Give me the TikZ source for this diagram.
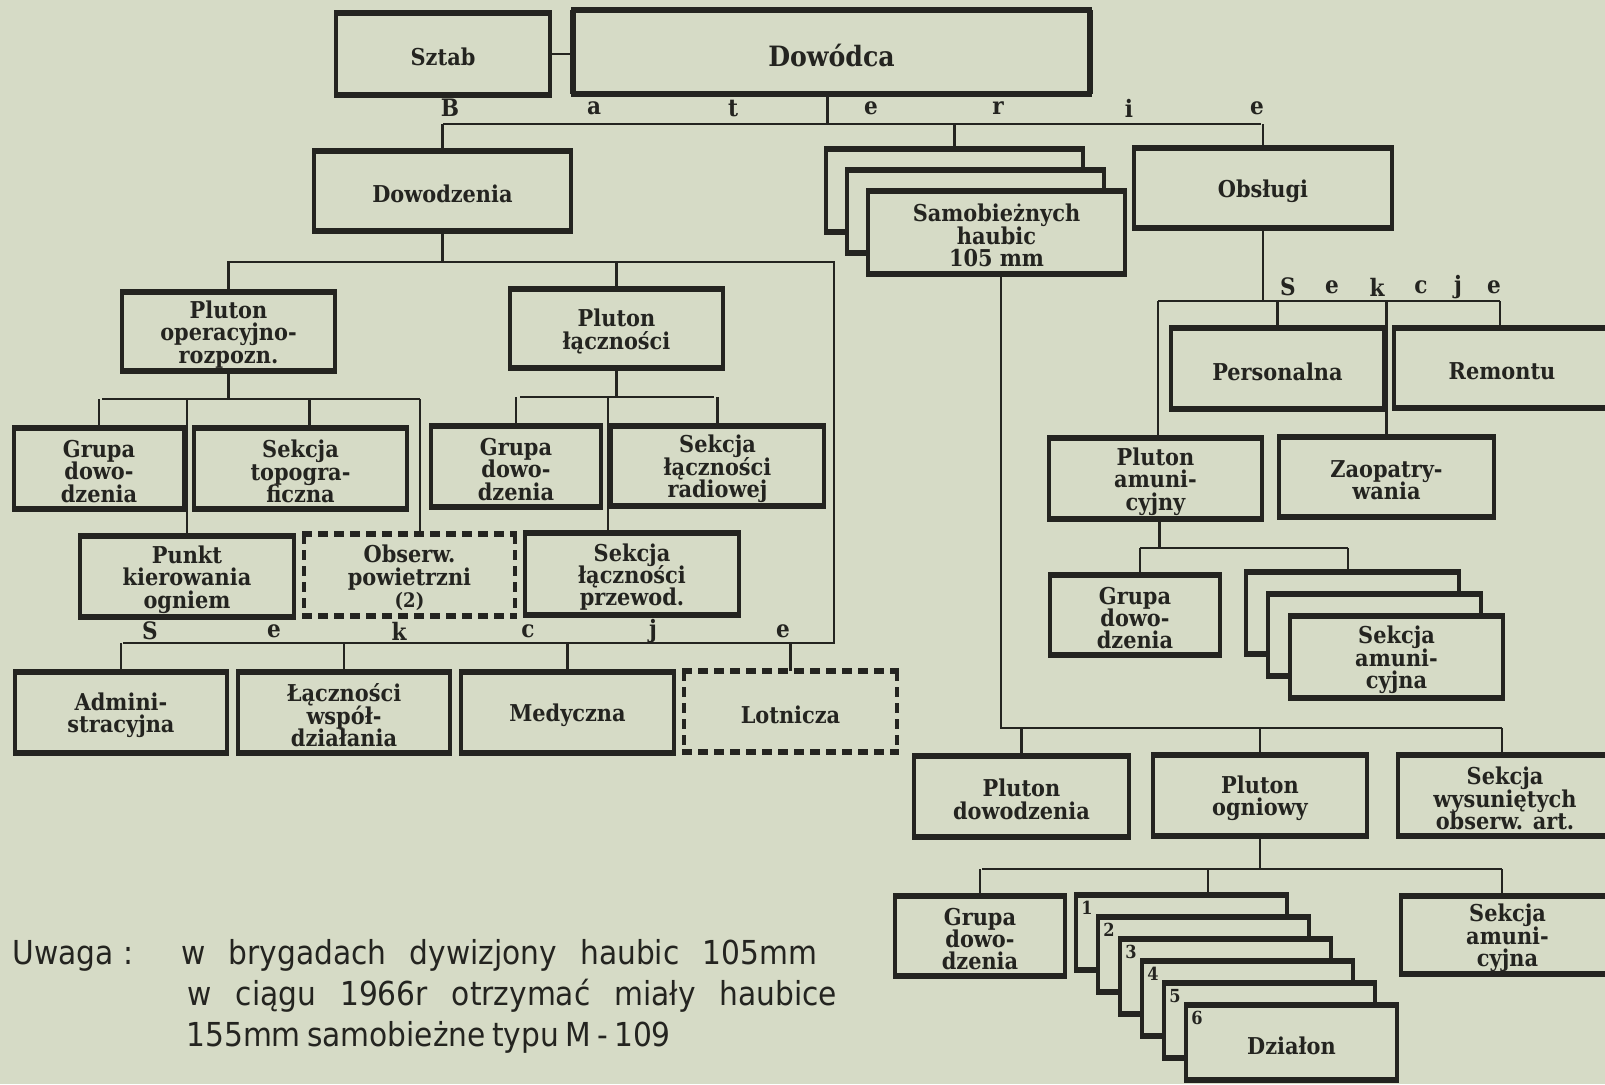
\documentclass[tikz,border=0pt]{standalone}
\usepackage{fontspec}
\setmainfont{DejaVu Serif Condensed}
\newfontfamily\notefont{DejaVu Sans Condensed}
\definecolor{paper}{RGB}{214,219,198}
\definecolor{ink}{RGB}{36,36,32}
\newcommand\myboxfont{\bfseries\fontsize{11.6}{11.2}\selectfont\setlength{\lineskiplimit}{-20pt}\setlength{\lineskip}{0pt}}
\tikzset{
  boxn/.style={inner sep=0pt, outer sep=0pt, fill=paper},
  boxtext/.style={inner sep=0pt, align=center, text=ink, font=\myboxfont},
  sidel/.style={line width=1.7pt, draw=ink},
  horl/.style={line width=2.6pt, draw=ink},
  conn/.style={line width=1.1pt, draw=ink},
  dashedbox/.style={dash pattern=on 5pt off 3pt},
  letter/.style={font=\bfseries\fontsize{12}{12}\selectfont, text=ink, inner sep=0pt},
  numl/.style={font=\bfseries\fontsize{9}{9}\selectfont, text=ink, inner sep=0pt, anchor=north west},
  notel/.style={font=\notefont\fontsize{16.5}{18}\selectfont, text=ink, inner sep=0pt, anchor=base west},
}
\newcommand\orgbox[7][]{%
  \node[boxn, minimum width={(#5-#3)*0.5pt}, minimum height={(#6-#4)*0.5pt}] (#2) at ({(#3+#5)/2},{(#4+#6)/2}) {};
  \node[boxtext, yshift=-1.5pt] (#2t) at (#2.center) {#7};
  \draw[sidel,#1] (#2.north west) -- (#2.south west) (#2.north east) -- (#2.south east);
  \draw[horl,#1] ([xshift=-1pt]#2.north west) -- ([xshift=1pt]#2.north east) ([xshift=-1pt]#2.south west) -- ([xshift=1pt]#2.south east);
}
\begin{document}
\begin{tikzpicture}[x=0.5pt,y=-0.5pt]
\fill[paper] (0,0) rectangle (1605,1084);
\useasboundingbox (0,0) rectangle (1605,1084);

% top
\orgbox{sztab}{336}{13}{550}{95}{Sztab}
\orgbox[line width=2.7pt]{dowodca}{573}{10}{1090}{94}{\fontsize{14}{15}\selectfont Dowódca}

% battery level
\orgbox{dowodz}{314}{151}{571}{231}{Dowodzenia}
\orgbox{samoA}{826}{149}{1083}{232}{}
\orgbox{samoB}{847}{170}{1104}{253}{}
\orgbox{samo}{868}{191}{1125}{274}{Samobieżnych\\haubic\\105 mm}
\orgbox{obsl}{1134}{148}{1392}{228}{Obsługi}

% left block
\orgbox{plop}{122}{292}{335}{371}{Pluton\\operacyjno-\\rozpozn.}
\orgbox{plla}{510}{289}{723}{368}{Pluton\\łączności}
\orgbox{grupaA}{14}{428}{184}{509}{Grupa\\dowo-\\dzenia}
\orgbox{topo}{194}{428}{407}{509}{Sekcja\\topogra-\\ficzna}
\orgbox{grupaB}{431}{426}{601}{507}{Grupa\\dowo-\\dzenia}
\orgbox{radio}{611}{426}{824}{506}{Sekcja\\łączności\\radiowej}
\orgbox{punkt}{80}{536}{294}{617}{Punkt\\kierowania\\ogniem}
\orgbox[dashedbox]{obs}{304}{534}{515}{616}{Obserw.\\powietrzni\\{\fontsize{10}{10}\selectfont (2)}}
\orgbox{przew}{525}{533}{739}{615}{Sekcja\\łączności\\przewod.}
\orgbox{admin}{15}{672}{227}{753}{Admini-\\stracyjna}
\orgbox{lacz}{238}{672}{450}{753}{Łączności\\współ-\\działania}
\orgbox{med}{461}{672}{674}{753}{Medyczna}
\orgbox[dashedbox]{lot}{684}{671}{897}{752}{Lotnicza}

% right block
\orgbox{pers}{1171}{328}{1384}{409}{Personalna}
\orgbox{rem}{1394}{328}{1610}{408}{Remontu}
\orgbox{plam}{1049}{438}{1262}{519}{Pluton\\amuni-\\cyjny}
\orgbox{zaop}{1279}{437}{1494}{517}{Zaopatry-\\wania}
\orgbox{grupaC}{1050}{575}{1220}{655}{Grupa\\dowo-\\dzenia}
\orgbox{sekaA}{1246}{572}{1459}{654}{}
\orgbox{sekaB}{1268}{594}{1481}{676}{}
\orgbox{seka}{1290}{616}{1503}{698}{Sekcja\\amuni-\\cyjna}
\orgbox{pldow}{914}{756}{1129}{837}{Pluton\\dowodzenia}
\orgbox{plog}{1153}{755}{1367}{836}{Pluton\\ogniowy}
\orgbox{sekwys}{1398}{755}{1612}{836}{Sekcja\\wysuniętych\\obserw. art.}
\orgbox{grupaD}{895}{896}{1065}{976}{Grupa\\dowo-\\dzenia}
\orgbox{dzA}{1076}{895}{1287}{970}{}
\node[numl] (nA) at ([xshift=2.5pt,yshift=-3pt]dzA.north west) {1};
\orgbox{dzB}{1098}{917}{1309}{992}{}
\node[numl] (nB) at ([xshift=2.5pt,yshift=-3pt]dzB.north west) {2};
\orgbox{dzC}{1120}{939}{1331}{1014}{}
\node[numl] (nC) at ([xshift=2.5pt,yshift=-3pt]dzC.north west) {3};
\orgbox{dzD}{1142}{961}{1353}{1036}{}
\node[numl] (nD) at ([xshift=2.5pt,yshift=-3pt]dzD.north west) {4};
\orgbox{dzE}{1164}{983}{1375}{1058}{}
\node[numl] (nE) at ([xshift=2.5pt,yshift=-3pt]dzE.north west) {5};
\orgbox{dzF}{1186}{1005}{1397}{1080}{Działon}
\node[numl] (nF) at ([xshift=2.5pt,yshift=-3pt]dzF.north west) {6};
\orgbox{sekam}{1401}{896}{1614}{974}{Sekcja\\amuni-\\cyjna}

% connectors
\draw[conn] (sztab.east) -- (sztab.east -| dowodca.west);
\coordinate (batL) at (443,124);
\coordinate (batR) at (1261,124);
\draw[conn] (batL) -- (batR);
\draw[conn] ([xshift=-2pt]dowodca.south) -- ([xshift=-2pt]dowodca.south |- batL);
\draw[conn] (dowodz.north) -- (dowodz.north |- batL);
\draw[conn] (samoA.north) -- (samoA.north |- batL);
\draw[conn] (obsl.north) -- (obsl.north |- batL);

\coordinate (dL) at (227,262);
\coordinate (dR) at (834,262);
\coordinate (sR) at (834,643);
\coordinate (sL) at (123,643);
\draw[conn] (dowodz.south) -- (dowodz.south |- dL);
\draw[conn] (dL) -- (dR) -- (sR) -- (sL);
\draw[conn] (plop.north) -- (plop.north |- dL);
\draw[conn] (plla.north) -- (plla.north |- dL);

\coordinate (oL) at (102,399);
\coordinate (oR) at (420,399);
\draw[conn] (plop.south) -- (plop.south |- oL);
\draw[conn] (oL) -- (oR);
\draw[conn] (grupaA.north) -- (grupaA.north |- oL);
\draw[conn] ([xshift=4.5pt]topo.north) -- ([xshift=4.5pt]topo.north |- oL);
\draw[conn] (punkt.north) -- (punkt.north |- oL);
\draw[conn] (oR) -- (oR |- obs.north);

\coordinate (lL) at (520,397);
\coordinate (lR) at (714,397);
\coordinate (lM) at (608,397);
\draw[conn] (plla.south) -- (plla.south |- lL);
\draw[conn] (lL) -- (lR);
\draw[conn] (grupaB.north) -- (grupaB.north |- lL);
\draw[conn] (radio.north) -- (radio.north |- lL);
\draw[conn] (lM) -- (lM |- przew.north);

\draw[conn] (admin.north) -- (admin.north |- sL);
\draw[conn] (lacz.north) -- (lacz.north |- sL);
\draw[conn] (med.north) -- (med.north |- sL);
\draw[conn] (lot.north) -- (lot.north |- sL);

\coordinate (oaL) at (1158,301);
\coordinate (oaR) at (1500,301);
\draw[conn] (obsl.south) -- (obsl.south |- oaL);
\draw[conn] (oaL) -- (oaR);
\draw[conn] (oaL) -- (oaL |- plam.north);
\draw[conn] (pers.north) -- (pers.north |- oaL);
\draw[conn] (zaop.north) -- (zaop.north |- oaL);
\draw[conn] (oaR) -- (oaR |- rem.north);

\coordinate (amL) at (1140,548);
\coordinate (amR) at (1348,548);
\draw[conn] ([xshift=2pt]plam.south) -- ([xshift=2pt]plam.south |- amL);
\draw[conn] (amL) -- (amR);
\draw[conn] (amL) -- (amL |- grupaC.north);
\draw[conn] (amR) -- (amR |- sekaA.north);

\coordinate (hL) at (1001,728);
\coordinate (hR) at (1502,728);
\draw[conn] (hL |- samo.south) -- (hL) -- (hR);
\draw[conn] (pldow.north) -- (pldow.north |- hL);
\draw[conn] (plog.north) -- (plog.north |- hL);
\draw[conn] (hR) -- (hR |- sekwys.north);

\coordinate (gL) at (982,869);
\coordinate (gR) at (1502,869);
\coordinate (gM) at (1208,869);
\draw[conn] (plog.south) -- (plog.south |- gL);
\draw[conn] (gL) -- (gR);
\draw[conn] (grupaD.north) -- (grupaD.north |- gL);
\draw[conn] (gM) -- (gM |- dzA.north);
\draw[conn] (gR) -- (gR |- sekam.north);

% spaced letters
\node[letter] (b1) at (450,108) {B};
\node[letter] (b2) at (594,108) {a};
\node[letter] (b3) at (733,108) {t};
\node[letter] (b4) at (871,108) {e};
\node[letter] (b5) at (998,108) {r};
\node[letter] (b6) at (1129,108) {i};
\node[letter] (b7) at (1257,108) {e};

\node[letter] (s1) at (150,631) {S};
\node[letter] (s2) at (274,631) {e};
\node[letter] (s3) at (399,631) {k};
\node[letter] (s4) at (528,631) {c};
\node[letter] (s5) at (653,631) {j};
\node[letter] (s6) at (783,631) {e};

\node[letter] (r1) at (1288,287) {S};
\node[letter] (r2) at (1332,287) {e};
\node[letter] (r3) at (1377,287) {k};
\node[letter] (r4) at (1421,287) {c};
\node[letter] (r5) at (1458,287) {j};
\node[letter] (r6) at (1494,287) {e};

% note
\node[notel] (u0) at (12,964) {Uwaga :};
\node[notel] (u1) at (181,964) {\makebox[318pt][s]{w brygadach dywizjony haubic 105mm}};
\node[notel] (u2) at (187,1005) {\makebox[325pt][s]{w ciągu 1966r otrzymać miały haubice}};
\node[notel] (u3) at (186,1046) {\makebox[241pt][s]{155mm samobieżne typu M - 109}};
\end{tikzpicture}
\end{document}
